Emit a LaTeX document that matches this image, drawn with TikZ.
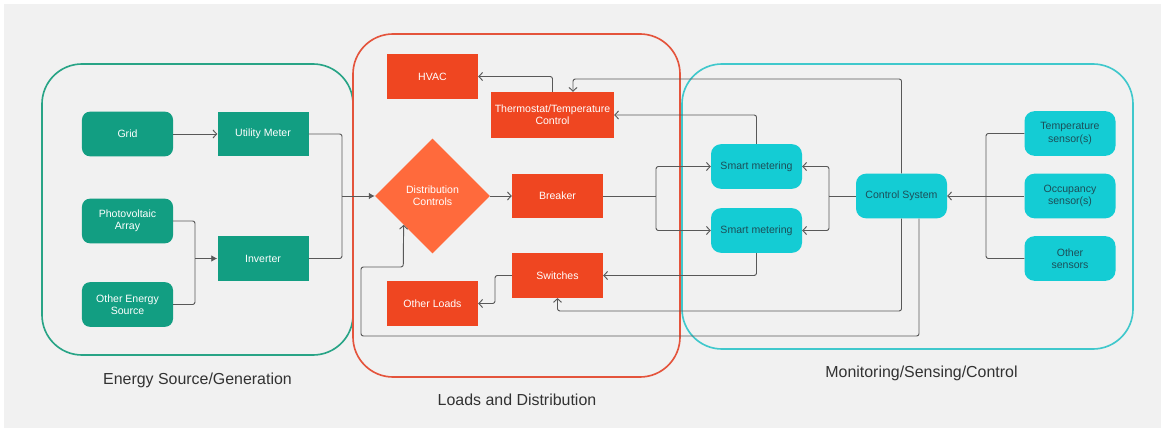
\documentclass[tikz,border=0pt]{standalone}
\usepackage{fontspec}
\setmainfont{Liberation Sans}
\usetikzlibrary{positioning, arrows.meta, calc, shapes.geometric}
\definecolor{canvas}{RGB}{241,241,241}
\definecolor{gen}{RGB}{18,158,130}
\definecolor{genline}{RGB}{40,164,134}
\definecolor{load}{RGB}{239,70,33}
\definecolor{loadline}{RGB}{228,84,60}
\definecolor{dctl}{RGB}{255,106,60}
\definecolor{mon}{RGB}{20,204,212}
\definecolor{monline}{RGB}{64,200,204}
\definecolor{montext}{RGB}{28,78,88}
\definecolor{wire}{RGB}{88,88,88}
\definecolor{caption}{RGB}{50,50,50}

\begin{document}
\begin{tikzpicture}[x=0.03cm, y=-0.03cm,
  box/.style={minimum width=2.73cm, minimum height=1.34cm, align=center, inner xsep=1pt, font=\fontsize{9}{10.4}\selectfont},
  gbox/.style={box, fill=gen, text=white},
  grnd/.style={gbox, rounded corners=0.24cm},
  lbox/.style={box, fill=load, text=white},
  mbox/.style={box, fill=mon, text=montext, rounded corners=0.3cm},
  grp/.style={line width=1.4pt, rounded corners=1.2cm},
  grplabel/.style={font=\fontsize{13.6}{15}\selectfont, text=caption},
  wr/.style={wire, line width=0.8pt, rounded corners=2pt},
  arr/.style={wr, -{Straight Barb[length=1.1mm, width=2.4mm]}},
  farr/.style={wr, -{Latex[length=1.8mm, width=2mm]}}]
\useasboundingbox (0,0) rectangle (1165,432);
\fill[white] (0,0) rectangle (1165,432);
\fill[canvas] (4,4) rectangle (1161,428);

% groups
\draw[grp, genline] (42,64) rectangle (353,355);
\draw[grp, loadline] (353,34) rectangle (680,377);
\draw[grp, monline] (682,64) rectangle (1133,349);
\node[grplabel] (capgen) at (197.5,380) {Energy Source/Generation};
\node[grplabel] (capload) at (517,400) {Loads and Distribution};
\node[grplabel] (capmon) at (921.5,373) {Monitoring/Sensing/Control};

% generation
\node[grnd] (grid) at (127.5,134) {Grid};
\node[gbox] (meter) at (263,134) {Utility Meter};
\node[grnd] (pv) at (127.5,221) {Photovoltaic\\Array};
\node[gbox] (inv) at (263,258.5) {Inverter};
\node[grnd] (oes) at (127.5,304.5) {Other Energy\\Source};

% loads
\node[lbox] (hvac) at (432.5,76.5) {HVAC};
\node[lbox, minimum width=3.69cm, minimum height=1.38cm] (thermo) at (552.5,115) {Thermostat/Temperature\\Control};
\node[box, diamond, aspect=1, inner sep=0pt, minimum width=3.45cm, minimum height=3.45cm, fill=dctl, text=white] (dist) at (432.5,196) {Distribution\\Controls};
\node[lbox] (breaker) at (557.5,196) {Breaker};
\node[lbox] (switches) at (557.5,275.5) {Switches};
\node[lbox] (loads) at (432.5,303.5) {Other Loads};

% monitoring
\node[mbox] (sm1) at (756.5,166.5) {Smart metering};
\node[mbox] (sm2) at (756.5,230.5) {Smart metering};
\node[mbox] (ctrl) at (901.5,196) {Control System};
\node[mbox] (tsens) at (1070,133.5) {Temperature\\sensor(s)};
\node[mbox] (osens) at (1070,196) {Occupancy\\sensor(s)};
\node[mbox] (xsens) at (1070,258.5) {Other\\sensors};

% wiring
\draw[arr] (grid) -- (meter);
\coordinate (jin) at (342,196);
\draw[wr] (meter.east) -| (jin);
\draw[wr] (inv.east) -| (jin);
\draw[farr] (jin) -- (dist.west);
\coordinate (jpv) at (195,258.5);
\draw[wr] (pv.east) -| (jpv);
\draw[wr] (oes.east) -| (jpv);
\draw[farr] (jpv) -- (inv.west);
\draw[arr] (dist) -- (breaker);
\draw[arr] (thermo.north) |- (hvac.east);
\coordinate (ttop) at (573,79);
\draw[arr] (ctrl.north) |- (ttop) -- (ttop |- thermo.north);
\draw[arr] (sm1.north) |- (thermo.east);
\coordinate (jbr) at (656,196);
\draw[wr] (breaker.east) -- (jbr);
\draw[arr] (jbr) |- (sm1.west);
\draw[arr] (jbr) |- (sm2.west);
\coordinate (jcs) at (829,196);
\draw[wr] (ctrl.west) -- (jcs);
\draw[arr] (jcs) |- (sm1.east);
\draw[arr] (jcs) |- (sm2.east);
\draw[arr] (sm2.south) |- (switches.east);
\coordinate (sbot) at (557.5,311);
\draw[arr] (ctrl.south) |- (sbot) -- (switches.south);
\coordinate (lp1) at (361,336);
\coordinate (lp2) at (403.25,267);
\draw[arr] ($(ctrl.south)+(17.5,0)$) |- (lp1) |- (lp2) -- (dist.south west);
\coordinate (jsw) at (495,275.5);
\draw[arr] (switches.west) -- (jsw) |- (loads.east);
\coordinate (jsn) at (986,196);
\draw[wr] (tsens.west) -| (jsn);
\draw[wr] (xsens.west) -| (jsn);
\draw[arr] (osens.west) -- (ctrl.east);
\end{tikzpicture}
\end{document}
